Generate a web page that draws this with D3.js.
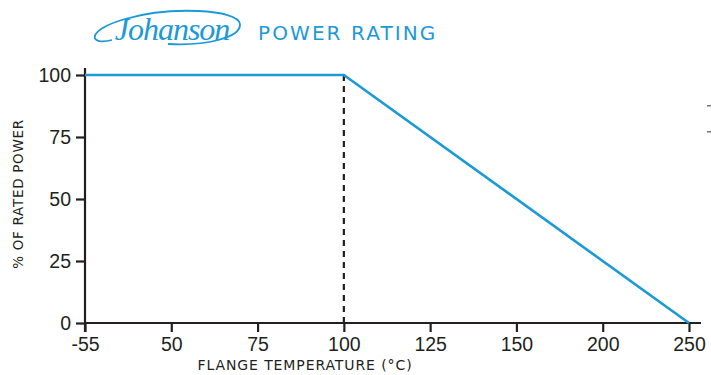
<!DOCTYPE html>
<html><head><meta charset="utf-8">
<script src="https://cdn.jsdelivr.net/npm/d3@7/dist/d3.min.js"></script>
<style>body{margin:0;background:#fff;}svg{display:block;}</style>
</head><body>
<script>
const categories = ["-55","50","75","100","125","150","200","250"];
const yTicks = [0,25,50,75,100];
const curveX = ["-55","100","250"];
const curveY = [100,100,0];
const dashX = "100";
const dashY = [100,0];
const title = "POWER RATING";
const brand = "Johanson";
const xTitle = "FLANGE TEMPERATURE (°C)";
const yTitle = "% OF RATED POWER";

const W=711,H=375;
const svg=d3.select("body").append("svg").attr("width",W).attr("height",H);
const ink="#231f20", blue="#1b9ad7";

const x=d3.scalePoint().domain(categories).range([85,689]);
const y=d3.scaleLinear().domain([0,100]).range([323,75]);

// header
const g0=svg.append("g");
g0.append("path")
  .attr("d","M112,40 C88,46 86,30 125,19 C170,6 238,9 240,24 C241,38 205,46 168,44")
  .attr("fill","none").attr("stroke",blue).attr("stroke-width",1.8);
g0.append("text").attr("x",172).attr("y",40).attr("text-anchor","middle")
  .attr("font-family","Liberation Serif").attr("font-style","italic")
  .attr("font-size",32).attr("fill",blue).attr("letter-spacing",-1).text(brand);
g0.append("text").attr("x",258).attr("y",40)
  .attr("font-family","DejaVu Sans").attr("font-size",20).attr("letter-spacing",2.1)
  .attr("fill",blue).text(title);

// axes
const xa=svg.append("g").attr("transform","translate(0,323)")
  .call(d3.axisBottom(x).tickSize(9).tickPadding(5));
xa.select(".domain").attr("d","M85,0H701").attr("stroke",ink).attr("stroke-width",2.2);
xa.selectAll(".tick line").attr("stroke",ink).attr("stroke-width",2.2);
xa.selectAll(".tick text").attr("font-family","Liberation Sans").attr("font-size",19.5).attr("fill",ink);

const ya=svg.append("g").attr("transform","translate(85,0)")
  .call(d3.axisLeft(y).tickValues(yTicks).tickSize(9).tickPadding(5));
ya.select(".domain").attr("d","M0,68V332").attr("stroke",ink).attr("stroke-width",2.2);
ya.selectAll(".tick line").attr("stroke",ink).attr("stroke-width",2.2);
ya.selectAll(".tick text").attr("font-family","Liberation Sans").attr("font-size",19.5).attr("fill",ink);

// dashed line
svg.append("line").attr("x1",x(dashX)).attr("x2",x(dashX))
  .attr("y1",y(dashY[0])).attr("y2",y(dashY[1]))
  .attr("stroke",ink).attr("stroke-width",2.2).attr("stroke-dasharray","6,5");

// curve
const pts=curveX.map((c,i)=>[x(c),y(curveY[i])]);
svg.append("path").attr("d",d3.line()(pts)).attr("fill","none")
  .attr("stroke",blue).attr("stroke-width",2.6);

// axis titles
svg.append("text").attr("x",305).attr("y",370).attr("text-anchor","middle")
  .attr("font-family","DejaVu Sans").attr("font-size",14).attr("letter-spacing",0.9)
  .attr("fill",ink).text(xTitle);
svg.append("text").attr("transform","translate(23,194) rotate(-90)").attr("text-anchor","middle")
  .attr("font-family","DejaVu Sans").attr("font-size",13.5).attr("letter-spacing",0.7)
  .attr("fill",ink).text(yTitle);

// stray marks at right edge
[106,132].forEach(v=>svg.append("rect").attr("x",707).attr("y",v-1).attr("width",4).attr("height",1.5).attr("fill","#777"));
</script>
</body></html>
